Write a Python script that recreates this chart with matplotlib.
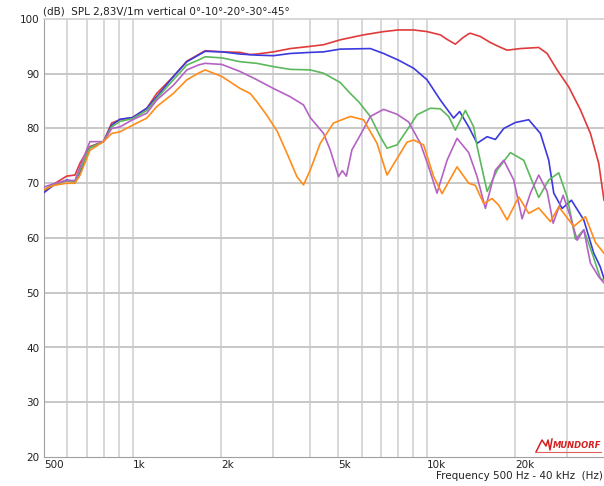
import matplotlib
matplotlib.use("Agg")
import matplotlib.pyplot as plt
from matplotlib.lines import Line2D

plt.rcParams['font.family'] = ['DejaVu Sans']

title_text = "(dB)  SPL 2,83V/1m vertical 0°-10°-20°-30°-45°"
xlabel_text = "Frequency 500 Hz - 40 kHz  (Hz)"
xtick_vals = [500, 1000, 2000, 5000, 10000, 20000]
xtick_labels = ["500", "1k", "2k", "5k", "10k", "20k"]
ytick_vals = [20, 30, 40, 50, 60, 70, 80, 90, 100]

# 0 deg (red)
f_0 = [500, 538, 597, 637, 663, 716, 796, 849, 906, 1000, 1118, 1208, 1376, 1529, 1674,
       1764, 2011, 2321, 2500, 2645, 3013, 3434, 4015, 4456, 5079, 6093, 7130, 8000, 9021,
       10015, 11115, 11700, 12500, 13200, 13875, 14060, 15200, 16445, 17500, 18745, 20800,
       24000, 25635, 27715, 30350, 33265, 35970, 38400, 40000]
db_0 = [68.5, 69.8, 71.3, 71.5, 73.7, 76.7, 77.6, 81.0, 81.6, 82.0, 83.7, 86.4, 89.5, 92.3, 93.5,
        94.2, 94.0, 93.9, 93.5, 93.6, 94.0, 94.6, 95.0, 95.3, 96.2, 97.1, 97.7, 98.0, 98.0,
        97.7, 97.1, 96.3, 95.4, 96.5, 97.3, 97.4, 96.8, 95.7, 95.0, 94.3, 94.6,
        94.8, 93.7, 90.7, 87.6, 83.4, 79.1, 73.6, 66.9]

# 10 deg (blue)
f_10 = [500, 538, 597, 637, 663, 716, 796, 849, 906, 1000, 1118, 1208, 1376, 1529, 1674,
        1764, 2011, 2321, 2645, 3013, 3434, 4015, 4456, 5079, 6426, 7130, 8000, 9021,
        10015, 11115, 12330, 12925, 13875, 14820, 16025, 17100, 18250, 20000, 22195,
        24320, 25960, 27000, 28830, 31000, 34150, 36930, 38800, 40000]
db_10 = [68.3, 69.6, 70.6, 70.3, 72.0, 76.5, 77.6, 80.6, 81.7, 82.0, 83.7, 85.8, 89.5, 92.2, 93.4,
         94.1, 94.0, 93.6, 93.4, 93.3, 93.7, 93.9, 94.0, 94.5, 94.6, 93.7, 92.5, 91.0,
         88.9, 85.2, 81.9, 83.1, 80.3, 77.3, 78.5, 78.0, 80.0, 81.1, 81.6,
         79.1, 74.2, 68.2, 65.4, 66.9, 63.3, 57.2, 54.8, 52.6]

# 20 deg (green)
f_20 = [500, 538, 597, 637, 663, 716, 796, 849, 906, 1000, 1118, 1208, 1376, 1529, 1674,
        1764, 2011, 2321, 2645, 3013, 3434, 4015, 4456, 5079, 5494, 5862, 6426, 6950, 7322,
        7919, 8563, 9260, 10275, 11115, 11860, 12500, 13520, 14430, 14820, 16025, 17330,
        19230, 21340, 24000, 25960, 28070, 29980, 31985, 34150, 36470, 38900, 40000]
db_20 = [68.8, 69.8, 70.4, 70.3, 72.5, 76.5, 77.6, 80.3, 81.3, 81.8, 83.3, 85.5, 88.9, 91.6, 92.5,
         93.1, 92.9, 92.2, 91.9, 91.3, 90.8, 90.7, 90.1, 88.4, 86.4, 84.9, 82.2, 78.5, 76.4,
         77.0, 79.7, 82.5, 83.7, 83.6, 82.2, 79.7, 83.3, 80.3, 76.7, 68.5, 72.4,
         75.6, 74.2, 67.4, 70.6, 71.9, 67.5, 59.8, 61.5, 57.2, 52.6, 52.3]

# 30 deg (purple)
f_30 = [500, 538, 597, 637, 663, 716, 796, 849, 906, 1000, 1118, 1208, 1376, 1529, 1674,
        1764, 2011, 2321, 2645, 3013, 3434, 3810, 4015, 4456, 4694, 5011, 5160, 5327, 5564,
        5939, 6426, 7130, 7919, 8670, 9506, 10140, 10830, 11715, 12665, 13875, 14820,
        15810, 17100, 18250, 19740, 21075, 22490, 24000, 25635, 26870, 29055, 30750,
        32415, 34150, 35970, 38400, 40000]
db_30 = [69.3, 69.9, 70.5, 70.5, 73.0, 77.6, 77.6, 80.0, 80.3, 81.6, 82.8, 85.2, 87.9, 90.7, 91.6,
         91.9, 91.7, 90.4, 88.9, 87.3, 85.8, 84.3, 82.0, 79.1, 76.1, 71.2, 72.3, 71.3, 76.1,
         78.8, 82.2, 83.5, 82.6, 81.2, 77.3, 73.0, 68.2, 74.2, 78.2, 75.6, 71.2,
         65.4, 72.4, 74.2, 70.6, 63.5, 68.2, 71.5, 68.5, 62.7, 67.8, 63.9,
         59.6, 61.5, 55.4, 52.9, 51.8]

# 45 deg (orange)
f_45 = [500, 538, 597, 637, 663, 716, 796, 849, 906, 1000, 1118, 1208, 1376, 1529, 1674,
        1764, 2011, 2321, 2510, 2645, 2861, 3100, 3346, 3619, 3810, 4015, 4343, 4818, 5494,
        6093, 6770, 7322, 7919, 8563, 9021, 9750, 10550, 11265, 12665, 13875, 14620,
        15600, 16665, 17550, 18745, 20530, 22195, 24000, 26300, 28070, 29980, 31565,
        34590, 37410, 40000]
db_45 = [68.8, 69.6, 70.0, 70.0, 71.5, 76.0, 77.6, 79.1, 79.4, 80.6, 81.9, 84.0, 86.4, 88.9, 90.1,
         90.7, 89.5, 87.3, 86.4, 84.9, 82.4, 79.5, 75.5, 71.2, 69.7, 72.4, 77.3, 81.0, 82.2,
         81.6, 77.3, 71.5, 74.5, 77.5, 77.9, 77.0, 71.2, 68.1, 73.0, 70.0, 69.6,
         66.3, 67.2, 66.0, 63.3, 67.5, 64.5, 65.5, 63.0, 65.7, 63.7, 62.1,
         63.9, 59.2, 57.2]

series = [
    (f_0, db_0, "#e03a3a"),
    (f_10, db_10, "#3a3ae0"),
    (f_20, db_20, "#5cb85c"),
    (f_30, db_30, "#b462c4"),
    (f_45, db_45, "#ff8c1a"),
]

FS = 7.5
W, H = 604, 486
fig = plt.figure(figsize=(W / 100, H / 100), dpi=100)
ax = fig.add_axes([44 / W, 29 / H, 560 / W, 438 / H])
ax.set_xscale('log')
ax.set_xlim(500, 40000)
ax.set_ylim(20, 100)

# grid
vgrid = [600, 700, 800, 900, 1000, 2000, 3000, 4000, 5000, 6000, 7000, 8000, 9000,
         10000, 20000, 30000]
for v in vgrid:
    ax.axvline(v, color="#d4d4d4", lw=1.3, zorder=1)
for h in [30, 40, 50, 60, 70, 80, 90]:
    ax.axhline(h, color="#c8c8c8", lw=1.4, zorder=1)

for f, d, c in series:
    ax.plot(f, d, color=c, lw=1.2, zorder=3, solid_joinstyle='round')

ax.spines['top'].set_color("#d0d0d0")
ax.spines['top'].set_linewidth(1.2)
ax.spines['right'].set_visible(False)
ax.spines['left'].set_color("#a0a0a0")
ax.spines['bottom'].set_color("#a0a0a0")

ax.set_yticks(ytick_vals)
ax.set_yticklabels([str(v) for v in ytick_vals], fontsize=FS, color="#222222")
ax.set_xticks(xtick_vals)
ax.set_xticklabels(xtick_labels, fontsize=FS, color="#222222", ha='left')
ax.xaxis.set_minor_locator(matplotlib.ticker.NullLocator())
ax.tick_params(axis='both', length=0)
ax.tick_params(axis='y', pad=3.5)
ax.tick_params(axis='x', pad=2.0)

fig.text(43 / W, 1 - 11 / H, title_text, fontsize=FS, color="#222222", va='center', ha='left')
fig.text(603 / W, 1 - 476 / H, xlabel_text, fontsize=FS, color="#222222", va='center', ha='right')

# logo
fig.text(601 / W, 1 - 445 / H, "MUNDORF", fontsize=6.0, color="#d42020", fontweight='bold',
         fontstyle='italic', va='center', ha='right')
zig_x = [536, 542, 546, 548, 550, 552]
zig_y = [452, 440, 446, 440, 450, 439]
fig.add_artist(Line2D([x / W for x in zig_x], [1 - y / H for y in zig_y],
                      color="#d42020", lw=1.1, transform=fig.transFigure))
fig.add_artist(Line2D([536 / W, 601 / W], [1 - 452 / H, 1 - 452 / H],
                      color="#e06060", lw=0.8, transform=fig.transFigure))

fig.savefig("out.png", dpi=100)
